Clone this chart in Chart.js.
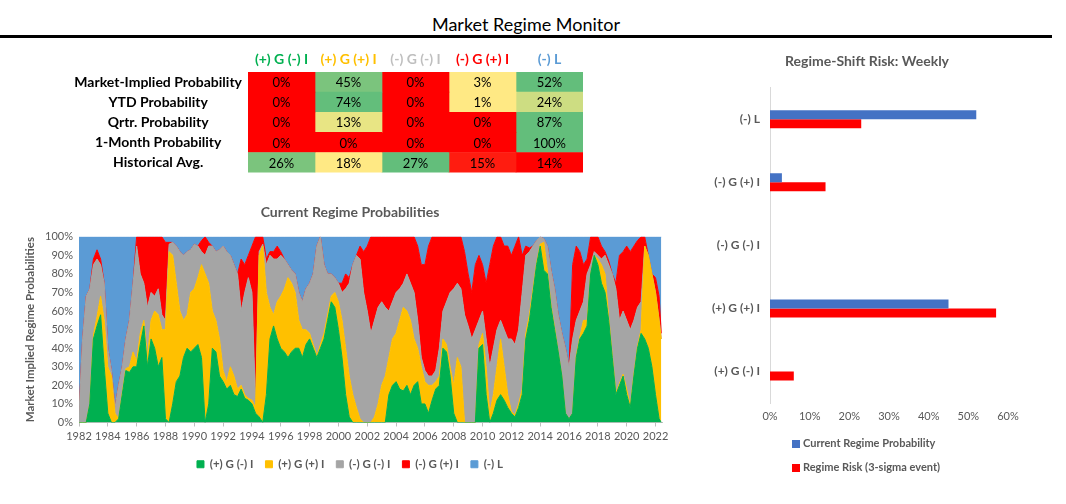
<!DOCTYPE html>
<html>
<head>
<meta charset="utf-8">
<script src="https://cdn.jsdelivr.net/npm/chart.js@4.4.1/dist/chart.umd.min.js"></script>
<style>
  body { margin: 0; width: 1066px; height: 504px; background: #fff; position: relative; overflow: hidden; font-family: Lato, sans-serif; }
  #title { position: absolute; left: 0; top: 13px; width: 1052px; text-align: center; font-size: 18px; color: #000; }
  #rule { position: absolute; left: 0; top: 35px; width: 1052px; height: 3px; background: #000; }
  canvas { position: absolute; }
  .lg { position: absolute; left: 792px; font-size: 11px; font-weight: bold; color: #595959; line-height: 14px; white-space: nowrap; }
  .lg span { display: inline-block; width: 8px; height: 8px; margin-right: 3px; vertical-align: -1px; }
</style>
</head>
<body>
<div id="title">Market Regime Monitor</div>
<div id="rule"></div>
<canvas id="tableChart" width="600" height="147" style="left:0;top:40px"></canvas>
<canvas id="areaChart" width="680" height="285" style="left:10px;top:195px"></canvas>
<canvas id="riskChart" width="374" height="385" style="left:680px;top:40px"></canvas>
<div id="riskLegend"></div>
<script>
// Regimi e tabella di sintesi
var regimes = ["(+) G (-) I", "(+) G (+) I", "(-) G (-) I", "(-) G (+) I", "(-) L"];
var tableRows = ["Market-Implied Probability", "YTD Probability", "Qrtr. Probability", "1-Month Probability", "Historical Avg."];
var marketImplied = [0, 45, 0, 3, 52];
var ytdProb = [0, 74, 0, 1, 24];
var qtrProb = [0, 13, 0, 0, 87];
var monthProb = [0, 0, 0, 0, 100];
var histAvg = [26, 18, 27, 15, 14];

// Probabilita' storiche (trimestrali, in %)
var dates = [
  1982, 1982.25, 1982.5, 1982.75, 1983, 1983.25, 1983.5, 1983.75, 1984, 1984.25,
  1984.5, 1984.75, 1985, 1985.25, 1985.5, 1985.75, 1986, 1986.25, 1986.5, 1986.75,
  1987, 1987.25, 1987.5, 1987.75, 1988, 1988.25, 1988.5, 1988.75, 1989, 1989.25,
  1989.5, 1989.75, 1990, 1990.25, 1990.5, 1990.75, 1991, 1991.25, 1991.5, 1991.75,
  1992, 1992.25, 1992.5, 1992.75, 1993, 1993.25, 1993.5, 1993.75, 1994, 1994.25,
  1994.5, 1994.75, 1995, 1995.25, 1995.5, 1995.75, 1996, 1996.25, 1996.5, 1996.75,
  1997, 1997.25, 1997.5, 1997.75, 1998, 1998.25, 1998.5, 1998.75, 1999, 1999.25,
  1999.5, 1999.75, 2000, 2000.25, 2000.5, 2000.75, 2001, 2001.25, 2001.5, 2001.75,
  2002, 2002.25, 2002.5, 2002.75, 2003, 2003.25, 2003.5, 2003.75, 2004, 2004.25,
  2004.5, 2004.75, 2005, 2005.25, 2005.5, 2005.75, 2006, 2006.25, 2006.5, 2006.75,
  2007, 2007.25, 2007.5, 2007.75, 2008, 2008.25, 2008.5, 2008.75, 2009, 2009.25,
  2009.5, 2009.75, 2010, 2010.25, 2010.5, 2010.75, 2011, 2011.25, 2011.5, 2011.75,
  2012, 2012.25, 2012.5, 2012.75, 2013, 2013.25, 2013.5, 2013.75, 2014, 2014.25,
  2014.5, 2014.75, 2015, 2015.25, 2015.5, 2015.75, 2016, 2016.25, 2016.5, 2016.75,
  2017, 2017.25, 2017.5, 2017.75, 2018, 2018.25, 2018.5, 2018.75, 2019, 2019.25,
  2019.5, 2019.75, 2020, 2020.25, 2020.5, 2020.75, 2021, 2021.25, 2021.5, 2021.75,
  2022, 2022.25, 2022.4
];
var posGrowthLowInfl = [
  0, 0, 0, 10, 45, 52, 58, 30, 5, 0,
  0, 2, 15, 28, 27, 30, 30, 42, 52, 30,
  45, 40, 30, 35, 2, 0, 10, 22, 25, 35,
  40, 38, 40, 42, 35, 0, 10, 40, 38, 25,
  22, 18, 20, 15, 14, 18, 13, 12, 10, 5,
  3, 0, 15, 45, 52, 45, 40, 38, 35, 38,
  40, 40, 35, 42, 45, 40, 35, 40, 45, 55,
  65, 62, 50, 35, 15, 3, 0, 0, 0, 0,
  0, 0, 0, 0, 0, 0, 15, 20, 22, 18,
  17, 20, 15, 20, 22, 10, 10, 5, 12, 18,
  20, 40, 38, 25, 5, 0, 0, 0, 0, 0,
  0, 40, 42, 15, 0, 5, 12, 15, 12, 8,
  5, 3, 8, 15, 45, 55, 70, 85, 95, 82,
  80, 62, 50, 38, 25, 5, 2, 5, 35, 45,
  48, 52, 80, 90, 85, 75, 70, 55, 35, 15,
  20, 25, 15, 8, 25, 40, 48, 45, 40, 30,
  15, 2, 0
];
var posGrowthHighInfl = [
  0, 0, 0, 0, 2, 5, 10, 25, 25, 25,
  5, 0, 1, 1, 3, 8, 3, 6, 3, 5,
  10, 20, 28, 15, 48, 92, 80, 53, 35, 20,
  18, 32, 32, 36, 50, 80, 65, 20, 17, 20,
  6, 4, 10, 10, 4, 2, 2, 1, 2, 3,
  87, 95, 55, 17, 6, 20, 28, 34, 43, 37,
  30, 15, 15, 8, 3, 2, 1, 2, 3, 3,
  3, 8, 15, 20, 25, 22, 15, 8, 2, 0,
  0, 0, 3, 10, 20, 25, 20, 25, 26, 37,
  45, 40, 40, 25, 18, 20, 12, 15, 8, 4,
  5, 5, 4, 5, 15, 35, 30, 0, 0, 0,
  0, 2, 6, 15, 5, 10, 18, 30, 18, 7,
  1, 1, 2, 3, 3, 3, 2, 1, 1, 15,
  2, 1, 1, 0, 0, 0, 0, 0, 1, 1,
  7, 3, 0, 0, 3, 10, 10, 2, 1, 1,
  1, 1, 3, 1, 1, 1, 2, 50, 50, 50,
  55, 53, 45
];
var negGrowthLowInfl = [
  5, 45, 68, 62, 38, 31, 17, 20, 10, 3,
  3, 18, 14, 16, 25, 37, 62, 32, 20, 27,
  15, 8, 14, 8, 5, 4, 7, 20, 32, 35,
  34, 23, 24, 17, 7, 10, 20, 35, 37, 48,
  67, 70, 60, 60, 62, 40, 55, 65, 58, 2,
  2, 1, 15, 28, 30, 23, 22, 16, 7, 7,
  10, 15, 15, 22, 27, 38, 59, 58, 37, 22,
  12, 8, 10, 15, 32, 50, 70, 82, 86, 70,
  60, 48, 52, 52, 45, 37, 25, 20, 22, 17,
  13, 20, 20, 25, 15, 5, 6, 5, 5, 6,
  15, 15, 23, 40, 52, 40, 42, 58, 52, 45,
  50, 13, 12, 15, 25, 25, 20, 10, 20, 30,
  39, 38, 40, 52, 42, 34, 23, 12, 4, 2,
  13, 19, 21, 20, 23, 35, 28, 40, 19, 14,
  10, 25, 5, 2, 2, 3, 10, 28, 44, 56,
  34, 34, 37, 41, 29, 21, 15, 0, 0, 0,
  0, 0, 0
];
var negGrowthHighInfl = [
  0, 0, 0, 0, 3, 5, 3, 0, 0, 0,
  0, 0, 0, 0, 0, 0, 5, 20, 25, 38,
  30, 32, 28, 42, 42, 1, 0, 0, 0, 0,
  0, 0, 0, 0, 6, 10, 2, 0, 0, 0,
  0, 0, 0, 0, 0, 28, 15, 12, 25, 90,
  8, 4, 3, 2, 4, 7, 2, 0, 0, 0,
  0, 0, 0, 0, 0, 0, 0, 0, 0, 0,
  0, 0, 0, 5, 8, 3, 0, 0, 7, 22,
  35, 52, 45, 38, 35, 38, 40, 35, 30, 28,
  25, 20, 25, 30, 40, 50, 57, 70, 75, 72,
  60, 40, 35, 30, 28, 25, 28, 34, 28, 25,
  35, 35, 25, 30, 55, 55, 50, 45, 45, 50,
  45, 53, 50, 20, 5, 2, 0, 0, 0, 0,
  0, 0, 0, 0, 0, 0, 0, 40, 40, 32,
  20, 8, 15, 8, 10, 7, 2, 2, 0, 3,
  35, 32, 40, 42, 40, 36, 35, 5, 0, 0,
  8, 13, 3
];
var lowLiquidity = [
  95, 55, 32, 28, 12, 7, 12, 25, 60, 72,
  92, 80, 70, 55, 45, 25, 0, 0, 0, 0,
  0, 0, 0, 0, 3, 3, 3, 5, 8, 10,
  8, 7, 4, 5, 2, 0, 3, 5, 8, 7,
  5, 8, 10, 15, 20, 12, 15, 10, 5, 0,
  0, 0, 12, 8, 8, 5, 8, 12, 15, 18,
  20, 30, 35, 28, 25, 20, 5, 0, 15, 20,
  20, 22, 25, 25, 20, 22, 15, 10, 5, 8,
  5, 0, 0, 0, 0, 0, 0, 0, 0, 0,
  0, 0, 0, 0, 5, 15, 15, 5, 0, 0,
  0, 0, 0, 0, 0, 0, 0, 8, 20, 30,
  15, 10, 15, 25, 15, 5, 0, 0, 5, 5,
  10, 5, 0, 10, 5, 6, 5, 2, 0, 1,
  5, 18, 28, 42, 52, 60, 70, 15, 5, 8,
  15, 12, 0, 0, 0, 5, 8, 13, 20, 25,
  10, 8, 5, 8, 5, 2, 0, 0, 10, 20,
  22, 32, 52
];
var tickYears = [1982, 1984, 1986, 1988, 1990, 1992, 1994, 1996, 1998, 2000, 2002,
  2004, 2006, 2008, 2010, 2012, 2014, 2016, 2018, 2020, 2022];

// Rischio di cambio regime (settimanale, in %)
var riskLabels = ["(-) L", "(-) G (+) I", "(-) G (-) I", "(+) G (+) I", "(+) G (-) I"];
var currentProb = [52, 3, 0, 45, 0];
var regimeRisk = [23, 14, 0, 57, 6];

// Stili
var regimeColors = ["#00B050", "#FFC000", "#A5A5A5", "#FF0000", "#5B9BD5"];
var headerColors = ["#00B050", "#FFC000", "#BFBFBF", "#FF0000", "#5B9BD5"];
var cellColors = [
  ["#FF0000", "#7BC47D", "#FF0000", "#FFE984", "#63BE7B"],
  ["#FF0000", "#63BE7B", "#FF0000", "#FFE984", "#CDDD82"],
  ["#FF0000", "#E8E584", "#FF0000", "#FF0000", "#63BE7B"],
  ["#FF0000", "#FF0000", "#FF0000", "#FF0000", "#63BE7B"],
  ["#7BC47D", "#FFE984", "#63BE7B", "#FF1C10", "#FF0000"]
];
var grey = "#595959";

Chart.defaults.font.family = "Lato";
Chart.defaults.animation = false;
Chart.defaults.responsive = false;
Chart.defaults.plugins.tooltip.enabled = false;

// asse vuoto a destra: lascia spazio senza spostare titolo e legenda
function spacerAxis(w) {
  return {
    position: "right", display: true,
    grid: { display: false, drawTicks: false },
    border: { display: false },
    ticks: { display: false },
    afterFit: function (s) { s.width = w; }
  };
}

// Tabella come heatmap: una barra flottante per cella
var tableValues = [marketImplied, ytdProb, qtrProb, monthProb, histAvg];
var cellLabels = {
  id: "cellLabels",
  afterDatasetsDraw: function (chart) {
    var ctx = chart.ctx;
    ctx.save();
    ctx.font = "13px Lato";
    ctx.fillStyle = "#000";
    ctx.textAlign = "center";
    ctx.textBaseline = "middle";
    chart.data.datasets.forEach(function (ds, j) {
      chart.getDatasetMeta(j).data.forEach(function (bar, i) {
        ctx.fillText(tableValues[i][j] + "%", (bar.x + bar.base) / 2, bar.y + 1);
      });
    });
    ctx.restore();
  }
};

new Chart(document.getElementById("tableChart"), {
  type: "bar",
  data: {
    labels: tableRows,
    datasets: regimes.map(function (name, j) {
      return {
        label: name,
        data: tableRows.map(function () { return [j, j + 1]; }),
        backgroundColor: cellColors.map(function (row) { return row[j]; }),
        borderWidth: 0,
        grouped: false,
        barPercentage: 1,
        categoryPercentage: 1
      };
    })
  },
  options: {
    indexAxis: "y",
    layout: { padding: { right: 17 } },
    plugins: { legend: { display: false } },
    scales: {
      x: {
        position: "top", min: 0, max: 5,
        grid: { display: false, drawTicks: false },
        border: { display: false },
        afterBuildTicks: function (s) { s.ticks = regimes.map(function (r, j) { return { value: j + 0.5 }; }); },
        afterFit: function (s) { s.height = 32; },
        ticks: {
          autoSkip: false, maxRotation: 0, padding: 4,
          font: { size: 14, weight: "bold" },
          color: function (c) { return headerColors[c.index]; },
          callback: function (v, i) { return regimes[i]; }
        }
      },
      y: {
        grid: { display: false, drawTicks: false },
        border: { display: false },
        afterFit: function (s) { s.width = 248; },
        ticks: { autoSkip: false, crossAlign: "center", padding: 6, color: "#000", font: { size: 14, weight: "bold" } }
      }
    }
  },
  plugins: [cellLabels]
});

// Area impilata delle probabilita'
var areaSeries = [posGrowthLowInfl, posGrowthHighInfl, negGrowthLowInfl, negGrowthHighInfl, lowLiquidity];
new Chart(document.getElementById("areaChart"), {
  type: "line",
  data: {
    labels: dates,
    datasets: regimes.map(function (name, i) {
      return {
        label: name,
        data: areaSeries[i],
        backgroundColor: regimeColors[i],
        borderColor: regimeColors[i],
        borderWidth: 1,
        pointRadius: 0,
        tension: 0,
        fill: i === 0 ? "origin" : "-1"
      };
    })
  },
  options: {
    plugins: {
      title: {
        display: true, text: "Current Regime Probabilities", color: grey,
        font: { size: 14, weight: "bold" }, padding: { top: 9, bottom: 16 }
      },
      legend: {
        position: "bottom",
        labels: { boxWidth: 7, boxHeight: 7, padding: 12, color: grey, font: { size: 11.5, weight: "bold" } }
      }
    },
    scales: {
      x: {
        type: "linear", min: 1982, max: 2022.45,
        afterBuildTicks: function (s) { s.ticks = tickYears.map(function (v) { return { value: v }; }); },
        afterFit: function (s) { s.height = 24; },
        grid: { drawOnChartArea: false, tickLength: 4, color: "#BFBFBF" },
        border: { color: "#BFBFBF" },
        ticks: { autoSkip: false, maxRotation: 0, padding: 3, color: grey, font: { size: 11 },
          callback: function (v) { return String(v); } }
      },
      y: {
        stacked: true, min: 0, max: 100,
        afterFit: function (s) { s.width = 69; },
        grid: { display: false, drawTicks: false },
        border: { display: false },
        title: { display: true, text: "Market Implied Regime Probabilities", color: grey,
          font: { size: 11.5, weight: "bold" }, padding: { top: 13 } },
        ticks: { stepSize: 10, padding: 6, color: grey, font: { size: 11 },
          callback: function (v) { return v + "%"; } }
      },
      spacer: spacerAxis(28)
    }
  }
});

// Barre orizzontali del rischio di cambio regime
var riskChart = new Chart(document.getElementById("riskChart"), {
  type: "bar",
  data: {
    labels: riskLabels,
    datasets: [
      { label: "Current Regime Probability", data: currentProb, backgroundColor: "#4472C4",
        borderWidth: 0, barPercentage: 1, categoryPercentage: 0.286 },
      { label: "Regime Risk (3-sigma event)", data: regimeRisk, backgroundColor: "#FF0000",
        borderWidth: 0, barPercentage: 1, categoryPercentage: 0.286 }
    ]
  },
  options: {
    indexAxis: "y",
    plugins: {
      legend: { display: false },
      title: {
        display: true, text: "Regime-Shift Risk: Weekly", color: grey,
        font: { size: 14, weight: "bold" }, padding: { top: 13, bottom: 18 }
      }
    },
    scales: {
      x: {
        min: 0, max: 60,
        afterFit: function (s) { s.height = 22; },
        grid: { display: false, drawTicks: false },
        border: { display: false },
        ticks: { stepSize: 10, padding: 7, color: grey, font: { size: 11 },
          callback: function (v) { return v + "%"; } }
      },
      y: {
        afterFit: function (s) { s.width = 90; },
        grid: { display: false, drawTicks: false },
        border: { display: true, color: "#D9D9D9" },
        ticks: { padding: 10, color: grey, font: { size: 12, weight: "bold" } }
      },
      spacer: spacerAxis(46)
    }
  }
});

// Legenda verticale del grafico a barre
var legendBox = document.getElementById("riskLegend");
riskChart.data.datasets.forEach(function (ds, i) {
  var item = document.createElement("div");
  item.className = "lg";
  item.style.top = (436 + i * 24) + "px";
  var sq = document.createElement("span");
  sq.style.background = ds.backgroundColor;
  item.appendChild(sq);
  item.appendChild(document.createTextNode(ds.label));
  legendBox.appendChild(item);
});
</script>
</body>
</html>
